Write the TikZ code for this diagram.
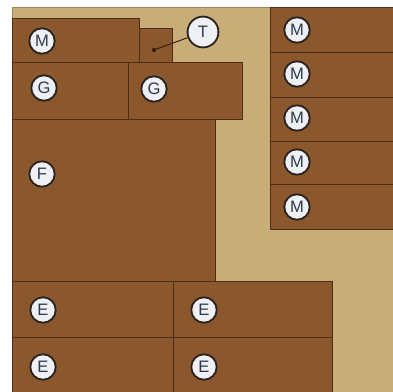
\documentclass[tikz,border=0pt]{standalone}
\usepackage{fontspec}
\setmainfont{Liberation Sans}
\definecolor{sand}{HTML}{C9AD78}
\definecolor{sandedge}{HTML}{9C8660}
\definecolor{plank}{HTML}{8B572D}
\definecolor{plankedge}{HTML}{4E2E16}
\definecolor{tagfill}{HTML}{EEF0F4}
\definecolor{tagedge}{HTML}{2A2220}
\definecolor{tagtext}{HTML}{2E3A4A}

\begin{document}
\begin{tikzpicture}[
    x=0.35mm, y=-0.35mm,
    plank/.style={fill=plank, draw=plankedge, line width=0.9pt},
    tag/.style={circle, draw=tagedge, fill=tagfill, line width=1.8pt,
      inner sep=0pt, minimum size=8.9mm, text=tagtext,
      font=\fontsize{16.5}{16.5}\selectfont},
    bigtag/.style={tag, minimum size=10.8mm},
  ]

  % Page and floor area
  \useasboundingbox (0,0) rectangle (393,392);
  \fill[white] (0,0) rectangle (393,392);
  \fill[sand] (12,7) rectangle (393,392);
  \draw[sandedge, line width=0.4pt] (12,392) -- (12,7) -- (393,7);

  % Top left: M board and small T block
  \draw[plank] (12,18) rectangle (139,62);
  \draw[plank] (139,28) rectangle (172,62);

  % G row
  \draw[plank] (12,62) rectangle (128,119);
  \draw[plank] (128,62) rectangle (242,119);

  % F board
  \draw[plank] (12,119) rectangle (215,281);

  % E boards
  \draw[plank] (12,281) rectangle (173,337);
  \draw[plank] (173,281) rectangle (332,337);
  \draw[plank] (12,337) rectangle (173,394);
  \draw[plank] (173,337) rectangle (332,394);

  % Right stack of M boards
  \foreach \ytop/\ybot in {7/52, 52/97, 97/141, 141/184, 184/229}
    \draw[plank] (270,\ytop) rectangle (396,\ybot);

  % Labels
  \node[tag] (m1) at (42,41) {M};
  \node[tag] (g1) at (44,88) {G};
  \node[tag] (g2) at (154,89) {G};
  \node[tag] (f1) at (42,174) {F};
  \node[tag] (e1) at (43,310) {E};
  \node[tag] (e2) at (204,310) {E};
  \node[tag] (e3) at (43,367) {E};
  \node[tag] (e4) at (204,367) {E};
  \foreach \y [count=\i] in {30, 74, 118, 162, 207}
    \node[tag] (mr\i) at (297,\y) {M};

  % T pointer
  \coordinate (tdot) at (154,50);
  \fill[plankedge!70!black] (tdot) circle (2.2pt);
  \node[bigtag] (t1) at (203,32) {T};
  \draw[plankedge!70!black, line width=1pt] (tdot) -- (t1);

\end{tikzpicture}
\end{document}
